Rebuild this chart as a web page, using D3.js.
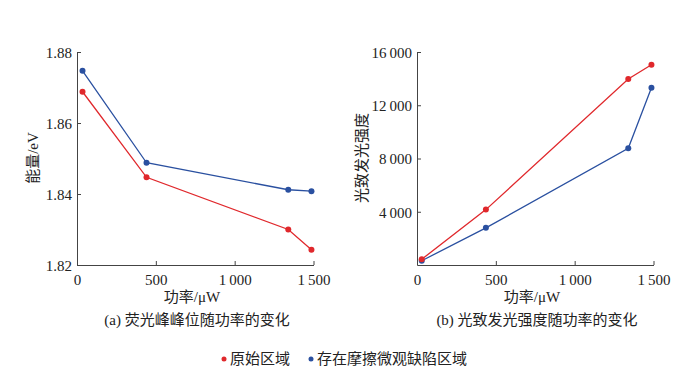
<!DOCTYPE html>
<html>
<head>
<meta charset="utf-8">
<script src="https://cdn.jsdelivr.net/npm/d3@7"></script>
<style>
  body { margin: 0; background: #fff; }
  text { font-family: "Liberation Serif", "Noto Sans CJK SC", serif; fill: #222; }
</style>
</head>
<body>
<script>
(function(){
    // power (uW) for each measurement
    var powerA = [35, 441, 1340, 1487];
    var powerB = [30, 437, 1340, 1487];
    // (a) peak energy, eV
    var energyOrig = [1.8688, 1.8447, 1.8300, 1.8243];
    var energyWear = [1.8747, 1.8488, 1.8412, 1.8408];
    // (b) PL intensity
    var plOrig = [430, 4160, 13970, 15040];
    var plWear = [320, 2790, 8765, 13320];

    var xTicks = [0, 500, 1000, 1500];
    var yTicksA = [1.82, 1.84, 1.86, 1.88];
    var yTicksB = [4000, 8000, 12000, 16000];

    var seriesNames = ["原始区域", "存在摩擦微观缺陷区域"];
    var colors = ["#e0282c", "#2a50a0"];

    var fmt = function(v) {
        // thin-space thousands like "1 500"
        return d3.format(",")(v).replace(/,/g, "\u2009");
    };

    var svg = d3.select("body").append("svg")
        .attr("width", 700).attr("height", 374);

    function panel(ox, powers, s1, s2, yDomain, yTicks, yFmt, yLabel, caption) {
        var g = svg.append("g").attr("transform", "translate(" + ox + ",0)");
        var x = d3.scaleLinear().domain([0, 1500]).range([77, 313.5]);
        var y = d3.scaleLinear().domain(yDomain).range([265, 52]);

        var xAxis = d3.axisBottom(x).tickValues(xTicks).tickFormat(fmt)
            .tickSizeInner(-4).tickSizeOuter(0).tickPadding(9);
        var yAxis = d3.axisLeft(y).tickValues(yTicks).tickFormat(yFmt)
            .tickSizeInner(-4).tickSizeOuter(0).tickPadding(5);

        var gx = g.append("g").attr("transform", "translate(0,265)").call(xAxis);
        var gy = g.append("g").attr("transform", "translate(77,0)").call(yAxis);
        [gx, gy].forEach(function(a) {
            a.select(".domain").attr("stroke", "#444");
            a.selectAll(".tick line").attr("stroke", "#444");
            a.selectAll(".tick text").attr("font-size", 15)
                .attr("font-family", "Liberation Serif").attr("fill", "#222");
        });
        gx.selectAll(".tick").filter(function(d){ return d === 0; }).select("line").remove();
        gy.selectAll(".tick text").attr("dy", "0.35em");

        [s2, s1].forEach(function(vals, k) {
            var col = k === 0 ? colors[1] : colors[0];
            var pts = powers.map(function(p, i){ return [p, vals[i]]; });
            g.append("path").datum(pts)
                .attr("fill", "none").attr("stroke", col).attr("stroke-width", 1.3)
                .attr("d", d3.line().x(function(d){ return x(d[0]); }).y(function(d){ return y(d[1]); }));
            g.selectAll(null).data(pts).enter().append("circle")
                .attr("cx", function(d){ return x(d[0]); })
                .attr("cy", function(d){ return y(d[1]); })
                .attr("r", 3).attr("fill", col);
        });

        g.append("text").attr("x", 192).attr("y", 302).attr("text-anchor", "middle")
            .attr("font-size", 15).text("功率/μW");
        g.append("text").attr("x", 197).attr("y", 325).attr("text-anchor", "middle")
            .attr("font-size", 15).text(caption);
        g.append("text").attr("transform", "translate(" + yLabel.x + ",158) rotate(-90)")
            .attr("text-anchor", "middle").attr("font-size", 15).text(yLabel.t);
    }

    panel(0, powerA, energyOrig, energyWear, [1.82, 1.88], yTicksA, d3.format(".2f"),
        {x: 38, t: "能量/eV"}, "(a) 荧光峰峰位随功率的变化");
    panel(340, powerB, plOrig, plWear, [0, 16000], yTicksB, fmt,
        {x: 27, t: "光致发光强度"}, "(b) 光致发光强度随功率的变化");

    // legend
    var legX = [224, 311];
    var leg = svg.append("g");
    seriesNames.forEach(function(n, i) {
        leg.append("circle").attr("cx", legX[i]).attr("cy", 359).attr("r", 2.5).attr("fill", colors[i]);
        leg.append("text").attr("x", legX[i] + 6).attr("y", 364).attr("font-size", 15).text(n);
    });
})();
</script>
</body>
</html>
